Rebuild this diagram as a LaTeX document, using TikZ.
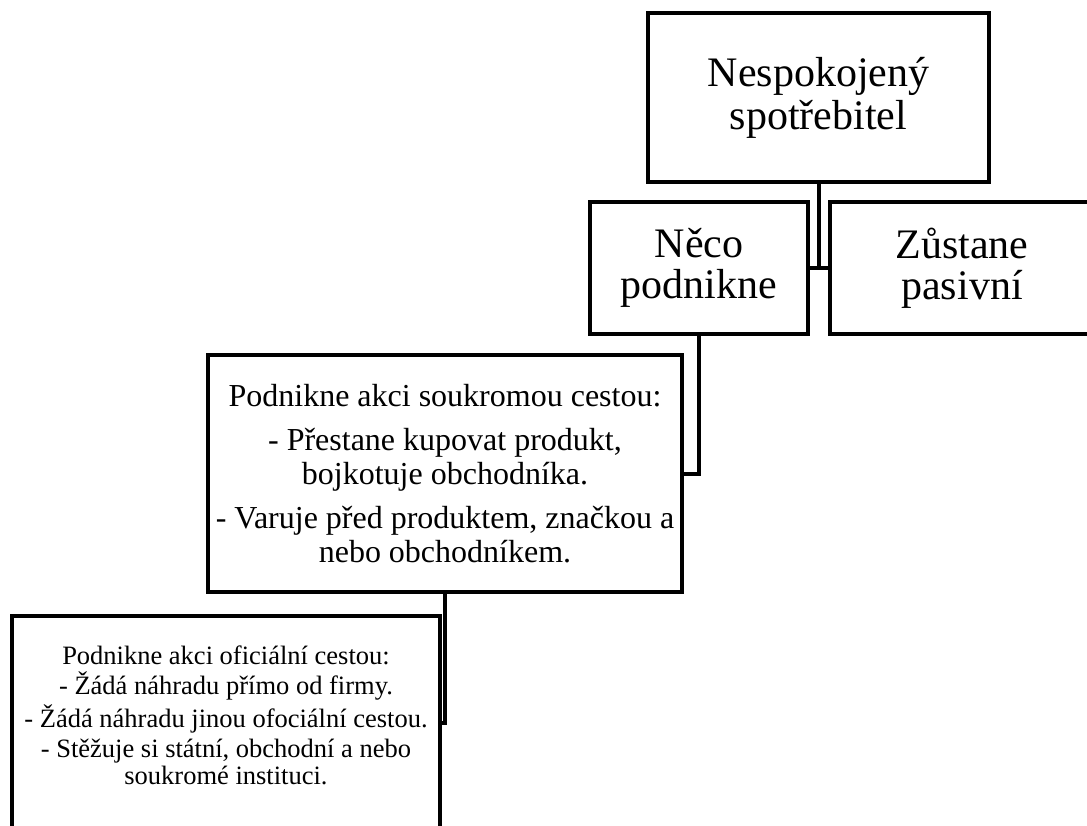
\documentclass[tikz,border=0pt]{standalone}
\usepackage{fontspec}
\setmainfont{Liberation Serif}
\usetikzlibrary{positioning}
\tikzset{
box/.style args = {#1/#2}{
            draw, line width=4pt, rectangle, inner sep=0pt,
            align=center, minimum width=#1, minimum height=#2},
conn/.style = {line width=4pt}}

\begin{document}
\begin{tikzpicture}[x=1pt,y=-1pt]
  \path[use as bounding box] (0,0) rectangle (1087,826);
  \clip (0,0) rectangle (1087,826);

  % top level
  \node[box=341pt/169pt, font=\fontsize{42}{43}\selectfont] (spotr) at (818.5,97.5)
    {Nespokojen\'y\\spot\v{r}ebitel};

  % two reactions
  \node[box=218pt/132pt, font=\fontsize{42}{41}\selectfont] (neco) at (699,268)
    {N\v{e}co\\podnikne};
  \node[box=264pt/132pt, font=\fontsize{42}{41}\selectfont] (pasiv) at (962,268)
    {Z\r{u}stane\\pasivn\'i};

  % private way
  \node[box=474pt/237pt, font=\fontsize{32}{34}\selectfont] (soukr) at (445,473.5)
    {Podnikne akci soukromou cestou:\\[10pt]
     - P\v{r}estane kupovat produkt,\\bojkotuje obchodn\'ika.\\[10pt]
     - Varuje p\v{r}ed produktem, zna\v{c}kou a\\nebo obchodn\'ikem.};

  % official way (empty last line lifts the text a little)
  \node[box=428pt/214pt, font=\fontsize{26.5}{27}\selectfont] (ofic) at (226,723)
    {Podnikne akci ofici\'aln\'i cestou:\\[3pt]
     - \v{Z}\'ad\'a n\'ahradu p\v{r}\'imo od firmy.\\[3pt]
     - \v{Z}\'ad\'a n\'ahradu jinou ofoci\'aln\'i cestou.\\[3pt]
     - St\v{e}\v{z}uje si st\'atn\'i, obchodn\'i a nebo\\soukrom\'e instituci.\\[-11pt]\mbox{}};

  \draw[conn] (spotr.south) |- (neco.east);
  \draw[conn] (spotr.south) |- (pasiv.west);
  \draw[conn] (neco.south) |- (soukr.east);
  \draw[conn] (soukr.south) |- (ofic.east);

\end{tikzpicture}
\end{document}
